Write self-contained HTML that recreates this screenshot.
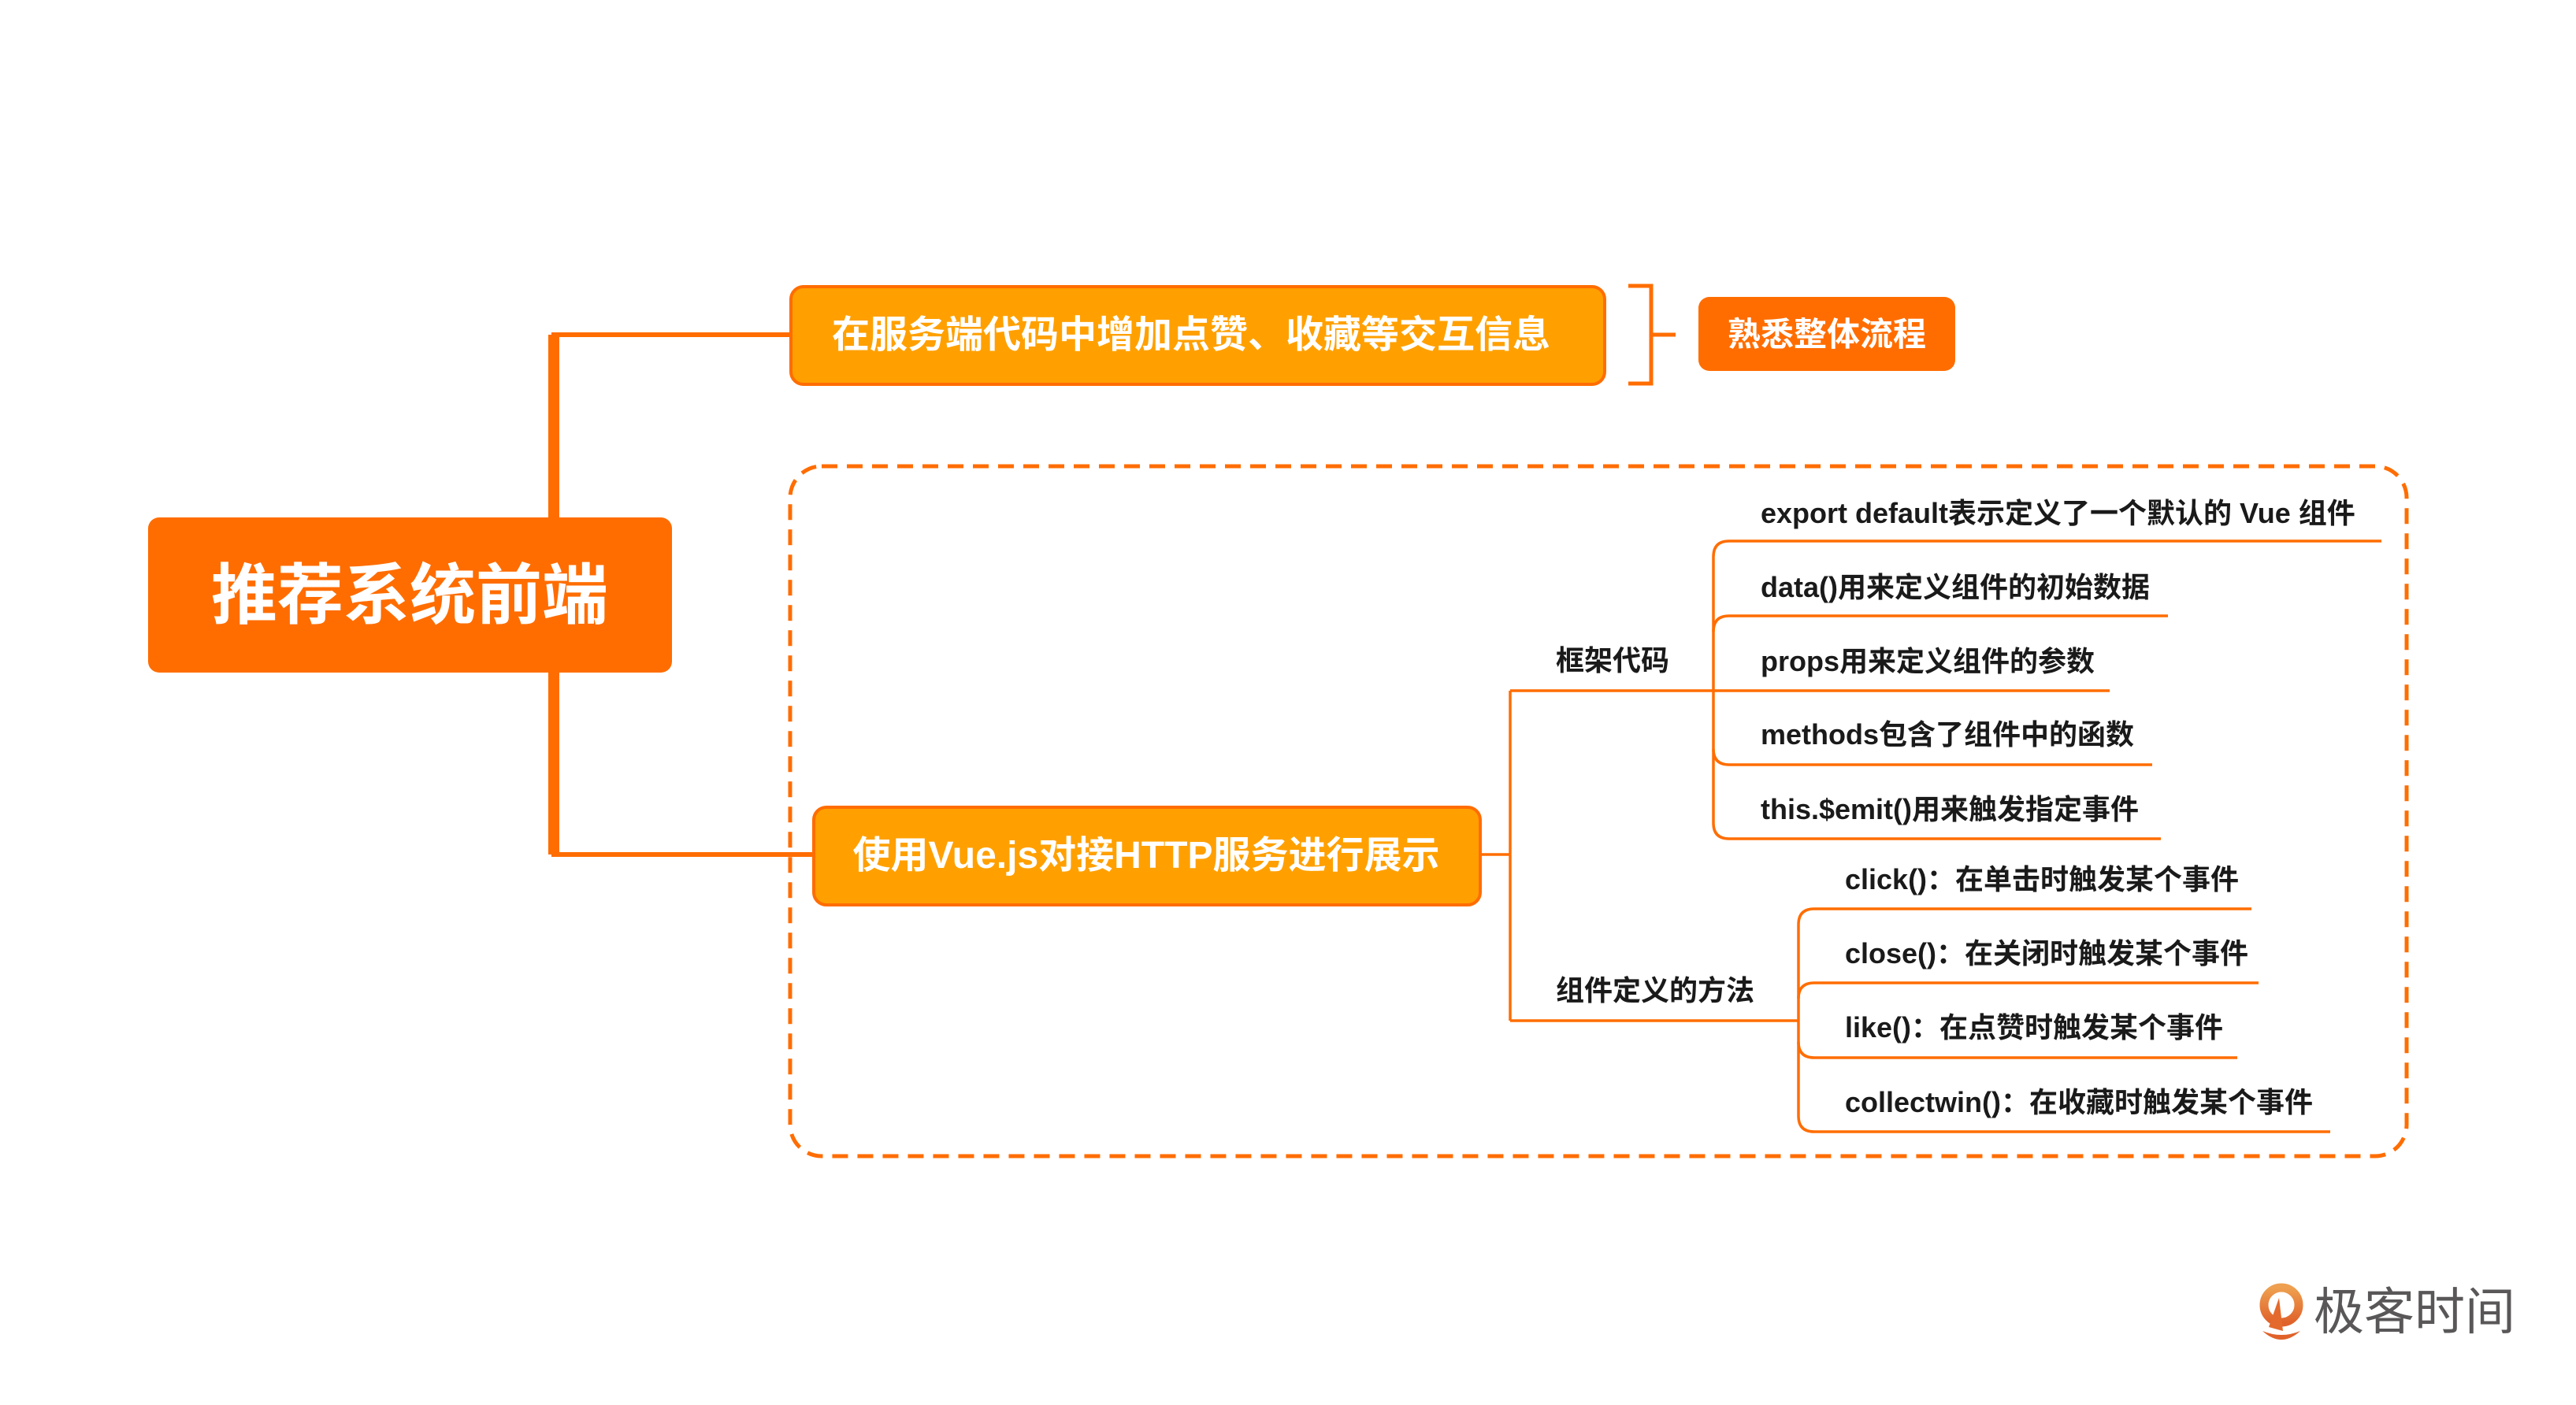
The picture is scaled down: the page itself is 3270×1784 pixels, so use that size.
<!DOCTYPE html>
<html><head><meta charset="utf-8"><style>
html,body{margin:0;padding:0;background:#fff;}
svg{display:block;}
text{font-family:"Liberation Sans","Noto Sans CJK SC",sans-serif;font-weight:bold;}
</style></head><body>
<svg width="3270" height="1784" viewBox="0 0 3270 1784" xmlns="http://www.w3.org/2000/svg">
<rect width="3270" height="1784" fill="#fff"/>
<path d="M1003 425 H703 V1085 H1032" fill="none" stroke="#ff6d00" stroke-width="6"/>
<rect x="696" y="425" width="14" height="660" fill="#ff6d00"/>
<rect x="1003" y="592" width="2052" height="876" rx="40" fill="none" stroke="#ff6d00" stroke-width="5" stroke-dasharray="20 12"/>
<rect x="188" y="657" width="665" height="197" rx="14" fill="#ff6d00"/>
<text x="520" y="785" font-size="84" fill="#fff" text-anchor="middle">推荐系统前端</text>
<rect x="1004" y="364" width="1033" height="124" rx="16" fill="#ffa000" stroke="#ff6d00" stroke-width="4"/>
<text x="1512" y="441" font-size="48" fill="#fff" text-anchor="middle">在服务端代码中增加点赞、收藏等交互信息</text>
<path d="M2067 363 H2096 V487 H2067 M2096 425 H2127" fill="none" stroke="#ff6d00" stroke-width="5"/>
<rect x="2156" y="377" width="326" height="94" rx="14" fill="#ff6d00"/>
<text x="2319" y="439" font-size="42" fill="#fff" text-anchor="middle">熟悉整体流程</text>
<rect x="1033" y="1025" width="846" height="124" rx="16" fill="#ffa000" stroke="#ff6d00" stroke-width="4"/>
<text x="1455" y="1102" font-size="48" fill="#fff" text-anchor="middle">使用Vue.js对接HTTP服务进行展示</text>
<g fill="none" stroke="#ff6d00" stroke-width="3.5">
<path d="M1879 1085 H1917 M1917 877 V1296 M1917 877 H2175 M1917 1296 H2283"/>
<path d="M3023 687 H2195 Q2175 687 2175 707 V1045 Q2175 1065 2195 1065 H2743"/>
<path d="M2752 782 H2195 Q2175 782 2175 802"/>
<path d="M2678 877 H2175"/>
<path d="M2732 971 H2195 Q2175 971 2175 951"/>
<path d="M2858 1154 H2303 Q2283 1154 2283 1174 V1417 Q2283 1437 2303 1437 H2958"/>
<path d="M2867 1248 H2303 Q2283 1248 2283 1268"/>
<path d="M2840 1343 H2303 Q2283 1343 2283 1323"/>
</g>
<g font-size="36" fill="#1a1a1a">
<text x="1975" y="851">框架代码</text>
<text x="1975" y="1270">组件定义的方法</text>
<text x="2235" y="664">export default表示定义了一个默认的 Vue 组件</text>
<text x="2235" y="758">data()用来定义组件的初始数据</text>
<text x="2235" y="852">props用来定义组件的参数</text>
<text x="2235" y="945">methods包含了组件中的函数</text>
<text x="2235" y="1040">this.$emit()用来触发指定事件</text>
<text x="2342" y="1129">click()：在单击时触发某个事件</text>
<text x="2342" y="1223">close()：在关闭时触发某个事件</text>
<text x="2342" y="1317">like()：在点赞时触发某个事件</text>
<text x="2342" y="1412">collectwin()：在收藏时触发某个事件</text>
</g>
<defs><linearGradient id="lg" x1="0" y1="0" x2="0" y2="1"><stop offset="0" stop-color="#eea050"/><stop offset="1" stop-color="#e0622a"/></linearGradient></defs>
<circle cx="2896" cy="1657" r="22" fill="none" stroke="url(#lg)" stroke-width="11"/>
<path d="M2880 1685 L2893 1648 L2898 1690 Z" fill="#e36a2c"/>
<path d="M2872 1690 Q2896 1712 2920 1690 Q2896 1700 2872 1690 Z" fill="#e0622a"/>
<text x="2937" y="1688" font-size="64" fill="#595757" style="font-weight:normal">极客时间</text>
</svg>
</body></html>
